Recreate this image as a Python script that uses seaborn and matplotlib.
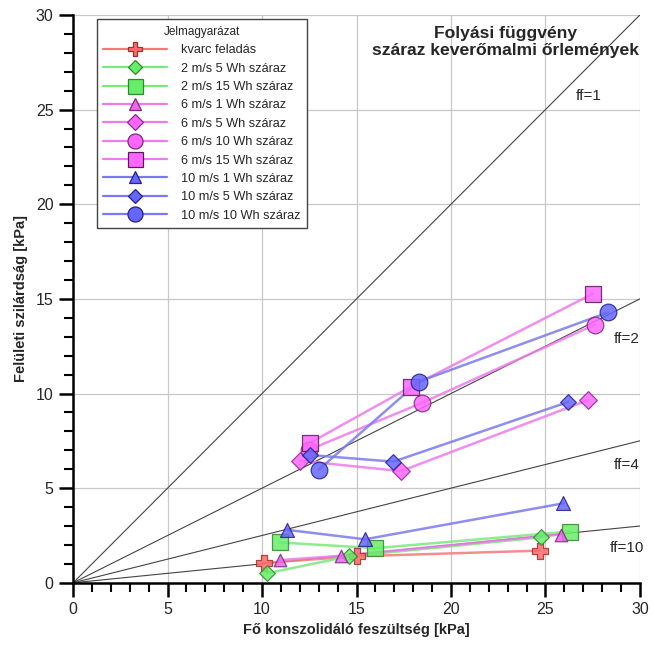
import numpy as np
import pandas as pd
import matplotlib
matplotlib.use("Agg")
import matplotlib.pyplot as plt
import seaborn as sns
from matplotlib.lines import Line2D
from matplotlib.ticker import MultipleLocator

# adatok leolvasva (fő konszolidáló feszültség, felületi szilárdság) [kPa]
series_names = ["kvarc feladás", "2 m/s 5 Wh száraz", "2 m/s 15 Wh száraz",
                "6 m/s 1 Wh száraz", "6 m/s 5 Wh száraz", "6 m/s 10 Wh száraz",
                "6 m/s 15 Wh száraz", "10 m/s 1 Wh száraz", "10 m/s 5 Wh száraz",
                "10 m/s 10 Wh száraz"]

kvarc_x = [10.1, 15.0, 24.7]
kvarc_y = [1.05, 1.4, 1.7]
v2_5_x = [10.25, 14.6, 24.75]
v2_5_y = [0.5, 1.4, 2.4]
v2_15_x = [10.95, 16.0, 26.3]
v2_15_y = [2.13, 1.83, 2.71]
v6_1_x = [10.95, 14.2, 25.8]
v6_1_y = [1.2, 1.43, 2.55]
v6_5_x = [12.0, 17.35, 27.25]
v6_5_y = [6.45, 5.9, 9.65]
v6_10_x = [12.5, 18.45, 27.6]
v6_10_y = [7.03, 9.5, 13.63]
v6_15_x = [12.55, 17.9, 27.5]
v6_15_y = [7.4, 10.37, 15.27]
v10_1_x = [11.3, 15.45, 25.95]
v10_1_y = [2.8, 2.3, 4.2]
v10_5_x = [12.55, 16.95, 26.2]
v10_5_y = [6.75, 6.4, 9.55]
v10_10_x = [13.0, 18.3, 28.3]
v10_10_y = [5.97, 10.63, 14.28]

xs = [kvarc_x, v2_5_x, v2_15_x, v6_1_x, v6_5_x, v6_10_x, v6_15_x, v10_1_x, v10_5_x, v10_10_x]
ys = [kvarc_y, v2_5_y, v2_15_y, v6_1_y, v6_5_y, v6_10_y, v6_15_y, v10_1_y, v10_5_y, v10_10_y]

ff_values = [1, 2, 4, 10]

# stílusok
line_cols = ["#f27a7a", "#7ae87a", "#7ae87a", "#ee7aee", "#ee7aee", "#ee7aee", "#ee7aee",
             "#7a7aee", "#7a7aee", "#7a7aee"]
fill_cols = ["#ff6a6a", "#66ee66", "#66ee66", "#ee66ee", "#ff66ff", "#ff66ff", "#ff66ff",
             "#6666ff", "#6666ff", "#6666ff"]
edge_cols = ["#a03030", "#2e8a2e", "#2e8a2e", "#7a2a7a", "#8a2a8a", "#7a2a7a", "#5a1a5a",
             "#22228a", "#22228a", "#22228a"]
markers = ["P", "D", "s", "^", "D", "o", "s", "^", "D", "o"]
msizes = [11, 8, 12, 9, 9, 12, 12, 10, 8, 12]

sns.set_theme(style="white")
plt.rcParams['font.family'] = ['Liberation Sans', 'DejaVu Sans']

fig = plt.figure(figsize=(6.53, 6.49), dpi=100)
ax = fig.add_axes([0.112, 0.102, 0.868, 0.875])

# folyási függvény vonalak
xl = np.array([0, 30])
for ff in ff_values:
    ax.plot(xl, xl / ff, color="#444444", lw=0.8, zorder=2)

# mérési sorozatok
for i, name in enumerate(series_names):
    df = pd.DataFrame({"x": xs[i], "y": ys[i]})
    sns.lineplot(data=df, x="x", y="y", sort=False, ax=ax, color=line_cols[i],
                 lw=1.8, alpha=0.85, zorder=3, estimator=None)
    sns.scatterplot(data=df, x="x", y="y", ax=ax, marker=markers[i], s=msizes[i] ** 2,
                    color=fill_cols[i], edgecolor=edge_cols[i], linewidth=0.9,
                    alpha=0.85, zorder=4)

ax.set_xlim(0, 30)
ax.set_ylim(0, 30)
ax.xaxis.set_major_locator(MultipleLocator(5))
ax.yaxis.set_major_locator(MultipleLocator(5))
ax.xaxis.set_minor_locator(MultipleLocator(1))
ax.yaxis.set_minor_locator(MultipleLocator(1))
ax.grid(True, which="major", color="#c8c8c8", lw=0.9)
ax.set_axisbelow(True)
for s in ["top", "right"]:
    ax.spines[s].set_visible(False)
for s in ["left", "bottom"]:
    ax.spines[s].set_color("black")
    ax.spines[s].set_linewidth(1.8)
ax.tick_params(which="major", direction="out", length=10, width=1.8, labelsize=11.5,
               color="black", bottom=True, left=True, pad=4)
ax.tick_params(which="minor", direction="out", length=6.5, width=1.5, color="black",
               bottom=True, left=True)

ax.set_xlabel("Fő konszolidáló feszültség [kPa]", fontsize=10.5, fontweight="bold", labelpad=4)
ax.set_ylabel("Felületi szilárdság [kPa]", fontsize=10.5, fontweight="bold", labelpad=6)

ax.text(22.9, 29.4, "Folyási függvény\nszáraz keverőmalmi őrlemények", ha="center", va="top",
        fontsize=12.6, fontweight="bold", linespacing=1.15)

ax.text(27.3, 25.7, "ff=1", fontsize=11, ha="center", va="center")
ax.text(29.3, 12.9, "ff=2", fontsize=11, ha="center", va="center")
ax.text(29.3, 6.2, "ff=4", fontsize=11, ha="center", va="center")
ax.text(29.3, 1.85, "ff=10", fontsize=11, ha="center", va="center")

handles = []
for i, name in enumerate(series_names):
    handles.append(Line2D([0], [0], color=line_cols[i], lw=1.6, marker=markers[i],
                          markersize=msizes[i] * 0.9, markerfacecolor=fill_cols[i],
                          markeredgecolor=edge_cols[i], markeredgewidth=0.9, label=name))
leg = ax.legend(handles=handles, title="Jelmagyarázat", loc="upper left",
                bbox_to_anchor=(0.042, 0.992), fontsize=9.2, title_fontsize=8.5,
                frameon=True, fancybox=False, edgecolor="#444444", framealpha=1,
                handlelength=5.0, labelspacing=0.5, borderpad=0.5, handletextpad=1.1,
                borderaxespad=0)
leg.get_frame().set_linewidth(1.0)

fig.savefig("out.png", dpi=100)
